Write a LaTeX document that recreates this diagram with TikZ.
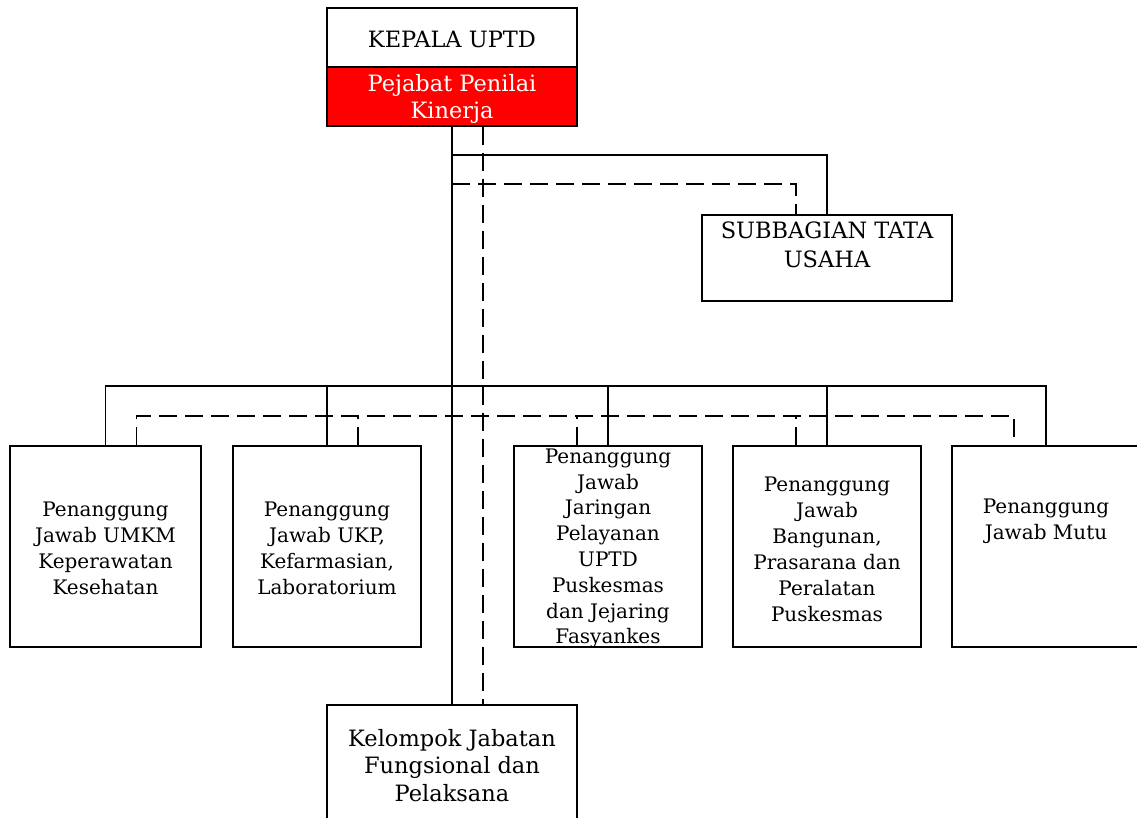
\documentclass[tikz,border=0pt]{standalone}
\usepackage{fontspec}
\setmainfont{DejaVu Serif}
\usetikzlibrary{positioning}
\definecolor{pprred}{RGB}{255,0,0}
\tikzset{
  every picture/.style={x=1pt,y=-1pt},
  unit/.style={draw=black, line width=1.1pt, inner sep=0pt, align=center,
    font=\fontsize{20}{26}\selectfont},
  headbox/.style={unit, minimum width=250pt, minimum height=59pt,
    font=\fontsize{22.5}{27}\selectfont},
  rowbox/.style={unit, minimum width=188pt, minimum height=201pt},
  label/.style={inner sep=0pt, align=center, font=\fontsize{20}{26}\selectfont},
  headlabel/.style={label, font=\fontsize{22.5}{27.5}\selectfont},
  solidlink/.style={draw=black, line width=1.1pt},
  dashlink/.style={draw=black, line width=1.1pt, dash pattern=on 18pt off 8pt}
}
\begin{document}
\begin{tikzpicture}
\useasboundingbox (0,0) rectangle (1137,818);
\fill[white] (0,0) rectangle (1137,818);

% head of the unit
\node[headbox] (kt) at (452,37.5) {};
\node[headlabel] (ktt) at (452,39.5) {KEPALA UPTD};
\node[headbox, fill=pprred] (kr) at (452,96.5) {};
\node[headlabel, text=white] (krt) at (452,99) {Pejabat Penilai\\Kinerja};

% administrative subdivision
\node[unit, minimum width=250pt, minimum height=86pt] (tu) at (827,258) {};
\node[headlabel, font=\fontsize{22.5}{29}\selectfont] (tut) at (827,245) {SUBBAGIAN TATA\\USAHA};

% second row of responsibility boxes
\node[rowbox, minimum width=191pt] (b1) at (105.5,546.5) {};
\node[label] (b1t) at (105.5,548) {Penanggung\\Jawab UMKM\\Keperawatan\\Kesehatan};
\node[rowbox] (b2) at (327,546.5) {};
\node[label] (b2t) at (327,548) {Penanggung\\Jawab UKP,\\Kefarmasian,\\Laboratorium};
\node[rowbox] (b3) at (608,546.5) {};
\node[label, font=\fontsize{20}{25.8}\selectfont] (b3t) at (608,548.5) {Penanggung\\Jawab\\Jaringan\\Pelayanan\\UPTD\\Puskesmas\\dan Jejaring\\Fasyankes};
\node[rowbox] (b4) at (827,546.5) {};
\node[label] (b4t) at (827,549) {Penanggung\\Jawab\\Bangunan,\\Prasarana dan\\Peralatan\\Puskesmas};
\node[rowbox] (b5) at (1046,546.5) {};
\node[label] (b5t) at (1046,521) {Penanggung\\Jawab Mutu};

% functional staff group
\node[headbox, minimum height=130pt] (fg) at (452,770) {};
\node[headlabel] (fgt) at (452,765.5) {Kelompok Jabatan\\Fungsional dan\\Pelaksana};

% junction points on the main lines
\coordinate (jtu) at (452,155);
\coordinate (jtud) at (452,184);
\coordinate (bus) at (452,386);
\coordinate (dbus) at (483,416);

% main command line and coordination line
\draw[solidlink] (kr.south) -- (fg.north);
\draw[dashlink] ([xshift=31pt]kr.south) -- ([xshift=31pt]fg.north);

% links to the administrative subdivision
\draw[solidlink] (jtu) -| (tu.north);
\draw[dashlink] (jtud) -| ([xshift=-31pt]tu.north);

% solid bus to the row
\draw[solidlink] (b1.north) |- (bus) -| (b5.north);
\draw[solidlink] (b2.north) -- (b2.north |- bus);
\draw[solidlink] (b3.north) -- (b3.north |- bus);
\draw[solidlink] (b4.north) -- (b4.north |- bus);

% dashed bus to the row
\draw[dashlink] ([xshift=31pt]b1.north) |- (dbus) -| ([xshift=-32pt]b5.north);
\draw[dashlink] ([xshift=31pt]b2.north) -- ([xshift=31pt]b2.north |- dbus);
\draw[dashlink] ([xshift=-31pt]b3.north) -- ([xshift=-31pt]b3.north |- dbus);
\draw[dashlink] ([xshift=-31pt]b4.north) -- ([xshift=-31pt]b4.north |- dbus);
\end{tikzpicture}
\end{document}
